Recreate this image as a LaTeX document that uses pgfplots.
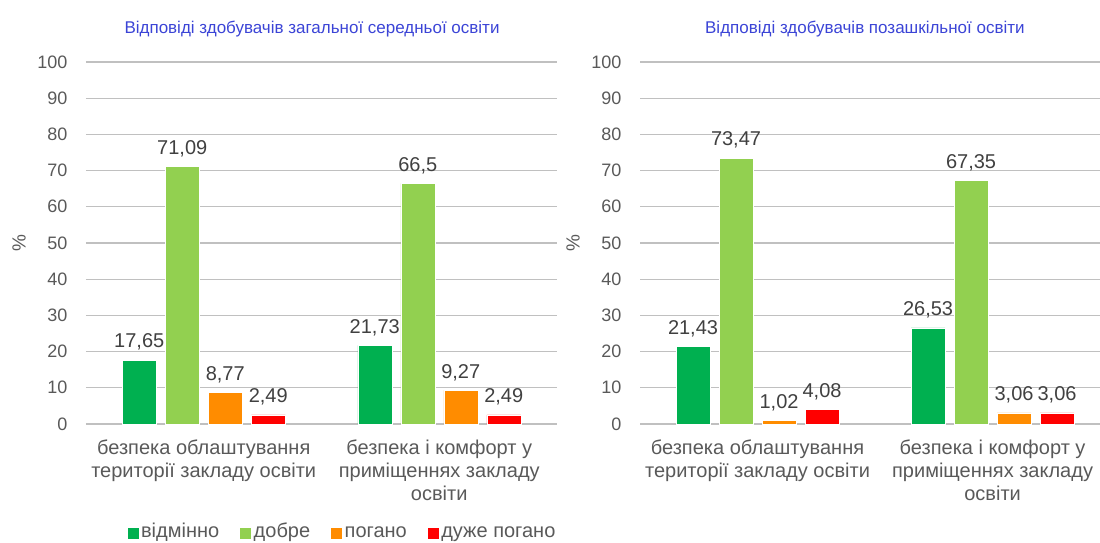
\documentclass[border=0pt]{standalone}
\usepackage{fontspec}
\setmainfont{Liberation Sans}
\usepackage{pgfplots}
\pgfplotsset{compat=1.18}
\definecolor{cg}{HTML}{00B050}
\definecolor{clg}{HTML}{92D050}
\definecolor{cor}{HTML}{FF8C00}
\definecolor{cred}{HTML}{FF0000}
\definecolor{ctitle}{HTML}{3B44D6}
\definecolor{ctext}{HTML}{595959}
\definecolor{cdata}{HTML}{404040}
\definecolor{cgrid}{HTML}{C0C0C0}
\pgfplotsset{
 panel/.style={
  scale only axis, height=362pt, ymin=0, ymax=100, ytick={0,10,...,100},
  ybar=9pt, bar width=34pt, xmin=-0.5, clip=false,
  xtick={0,1},
  xticklabels={{безпека облаштування\\території закладу освіти},{безпека і комфорт у\\приміщеннях закладу\\освіти}},
  axis line style={draw=none}, major tick length=0pt,
  ymajorgrids, grid style={cgrid, line width=1.2pt},
  /pgf/number format/.cd, use comma, precision=2, assume math mode=true, /pgfplots/.cd,
  yticklabel style={font=\fontsize{18}{20}\selectfont, text=ctext, xshift=-15pt},
  xticklabel style={font=\fontsize{20}{23}\selectfont, text=ctext, align=center, yshift=-12pt},
  ylabel={\%}, ylabel style={font=\fontsize{19}{22}\selectfont, text=ctext, at={(axis description cs:0,0.5)}, anchor=center, yshift=67pt},
  title style={font=\fontsize{17}{19}\selectfont, text=ctitle, anchor=center},
  nodes near coords,
  every node near coord/.append style={font=\fontsize{20}{23}\selectfont, text=cdata, yshift=6pt},
  legend image code/.code={\fill[##1] (0pt,-6pt) rectangle (12pt,6pt);},
 },
 bg/.style={fill=cg, draw=white, line width=0.5pt},
 blg/.style={fill=clg, draw=white, line width=0.5pt},
 bor/.style={fill=cor, draw=white, line width=0.5pt},
 bred/.style={fill=cred, draw=white, line width=0.5pt},
}
\begin{document}
\begin{tikzpicture}
\useasboundingbox (-86pt,-119pt) rectangle (1014pt,424pt);
\begin{axis}[panel, at={(0pt,0pt)}, anchor=south west, width=471pt, xmax=1.5,
  title={Відповіді здобувачів загальної середньої освіти},
  title style={at={(0.48,1.075)}},
  legend columns=4,
  legend style={at={(0.5435,-0.301)}, anchor=center, draw=none, fill=none,
    font=\fontsize{20}{23}\selectfont, text=ctext,
    nodes={inner sep=2pt, text height=14pt, text depth=4pt},
    /tikz/every even column/.append style={column sep=18pt}},
]
\addplot[bg] coordinates {(0,17.65) (1,21.73)};
\addplot[blg] coordinates {(0,71.09) (1,66.5)};
\addplot[bor] coordinates {(0,8.77) (1,9.27)};
\addplot[bred] coordinates {(0,2.49) (1,2.49)};
\legend{відмінно,добре,погано,дуже погано}
\end{axis}
\begin{axis}[panel, at={(554pt,0pt)}, anchor=south west, width=460pt, xmax=1.457,
  title={Відповіді здобувачів позашкільної освіти},
  title style={at={(0.489,1.075)}},
]
\addplot[bg] coordinates {(0,21.43) (1,26.53)};
\addplot[blg] coordinates {(0,73.47) (1,67.35)};
\addplot[bor] coordinates {(0,1.02) (1,3.06)};
\addplot[bred] coordinates {(0,4.08) (1,3.06)};
\end{axis}
\end{tikzpicture}
\end{document}
